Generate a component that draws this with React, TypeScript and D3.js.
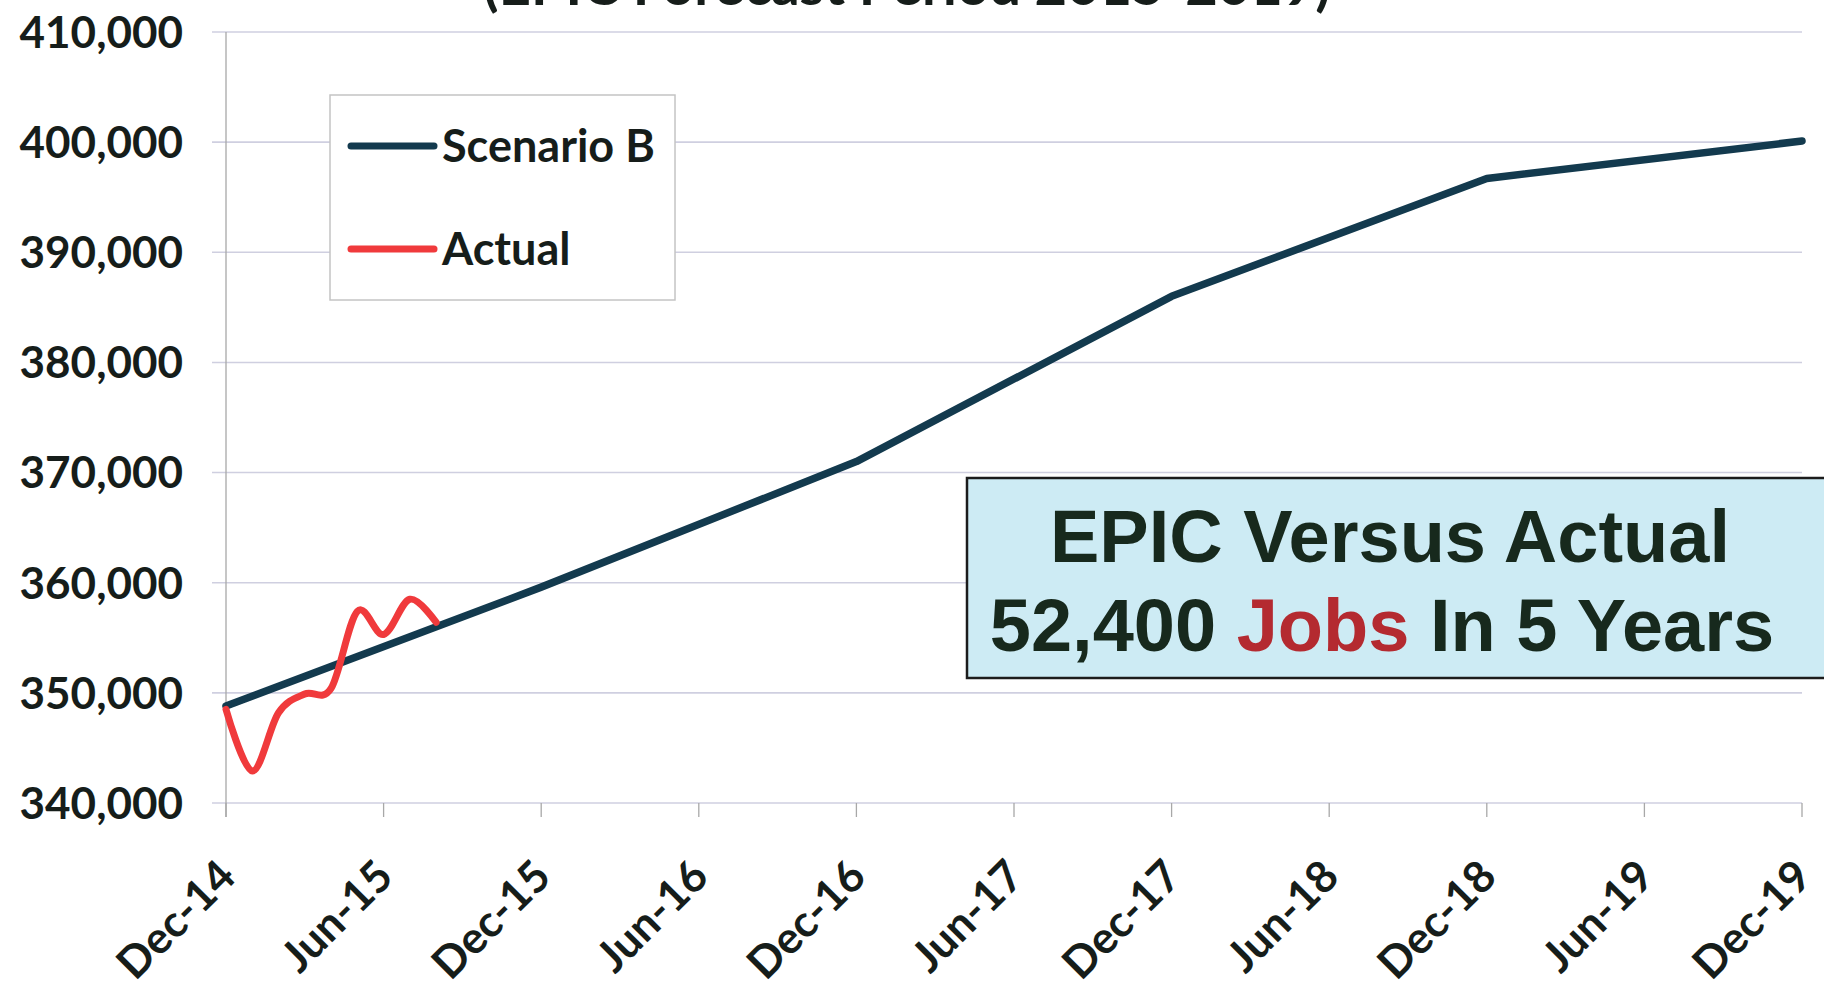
import React from "react";
import * as d3 from "d3";

// ---- data ----
const scenarioDates = ["2014-12", "2015-12", "2016-12", "2017-12", "2018-12", "2019-12"];
const scenarioValues = [348800, 359600, 371000, 386000, 396700, 400100];

const actualDates = ["2014-12", "2015-01", "2015-02", "2015-03", "2015-04", "2015-05", "2015-06", "2015-07", "2015-08"];
const actualValues = [348500, 342900, 348200, 349900, 350400, 357400, 355300, 358500, 356400];

const tickDates = ["2014-12", "2015-06", "2015-12", "2016-06", "2016-12", "2017-06", "2017-12", "2018-06", "2018-12", "2019-06", "2019-12"];
const tickLabels = ["Dec-14", "Jun-15", "Dec-15", "Jun-16", "Dec-16", "Jun-17", "Dec-17", "Jun-18", "Dec-18", "Jun-19", "Dec-19"];

const yTicks = [340000, 350000, 360000, 370000, 380000, 390000, 400000, 410000];

const titleText = "(EPIC Forecast Period 2015-2019)";
const legendLabels = ["Scenario B", "Actual"];
const annotationLine1 = "EPIC Versus Actual";
const annotationLine2 = ["52,400 ", "Jobs", " In 5 Years"];

// ---- helpers ----
const monthIndex = (s: string) => {
  const [yy, mm] = s.split("-").map(Number);
  return (yy - 2014) * 12 + (mm - 12);
};

const W = 1824;
const H = 990;

const x = d3.scaleLinear().domain([0, 60]).range([226, 1802]);
const y = d3.scaleLinear().domain([340000, 410000]).range([803, 32]);

const BLUE = "#133a4e";
const RED = "#f03a3c";
const TEXT = "#161d1a";
const GRID = "#cfcfe0";
const FONT = "Lato, 'Open Sans', sans-serif";

export default function App() {
  const scenLine = d3
    .line<number>()
    .x((_, i) => x(monthIndex(scenarioDates[i])))
    .y((d) => y(d))
    .curve(d3.curveLinear);
  const actLine = d3
    .line<number>()
    .x((_, i) => x(monthIndex(actualDates[i])))
    .y((d) => y(d))
    .curve(d3.curveCardinal.tension(0));

  const axisBottom = y(340000);

  return (
    <svg
      width={W}
      height={H}
      style={{ position: "absolute", left: 0, top: 0, background: "#fff" }}
    >
      <rect x={0} y={0} width={W} height={H} fill="#ffffff" />
      {/* title (cut off at top, as in the source) */}
      <text
        x={907}
        y={5}
        textAnchor="middle"
        fontFamily={FONT}
        fontWeight={700}
        fontSize={56}
        fill={TEXT}
      >
        {titleText}
      </text>

      {/* gridlines */}
      {yTicks.map((t) => (
        <line
          key={t}
          x1={212}
          x2={x(60)}
          y1={y(t)}
          y2={y(t)}
          stroke={GRID}
          strokeWidth={1.6}
        />
      ))}
      {/* y axis */}
      <line x1={x(0)} x2={x(0)} y1={y(410000)} y2={axisBottom + 14} stroke="#a8a8a8" strokeWidth={1.3} />
      {/* x ticks */}
      {tickDates.map((d) => (
        <line
          key={d}
          x1={x(monthIndex(d))}
          x2={x(monthIndex(d))}
          y1={axisBottom}
          y2={axisBottom + 14}
          stroke="#a8a8a8"
          strokeWidth={1.3}
        />
      ))}

      {/* y labels */}
      {yTicks.map((t) => (
        <text
          key={t}
          x={183}
          y={y(t)}
          dy="0.36em"
          textAnchor="end"
          fontFamily={FONT}
          fontWeight={700}
          fontSize={44}
          fill={TEXT}
        >
          {d3.format(",")(t)}
        </text>
      ))}

      {/* x labels */}
      {tickDates.map((d, i) => {
        const ax = x(monthIndex(d)) + 12;
        const ay = 879;
        return (
          <text
            key={d}
            x={ax}
            y={ay}
            transform={`rotate(-45, ${ax}, ${ay})`}
            textAnchor="end"
            fontFamily={FONT}
            fontWeight={700}
            fontSize={44}
            fill={TEXT}
          >
            {tickLabels[i]}
          </text>
        );
      })}

      {/* series */}
      <path
        d={scenLine(scenarioValues) || ""}
        fill="none"
        stroke={BLUE}
        strokeWidth={7.5}
        strokeLinejoin="round"
        strokeLinecap="round"
      />
      <path
        d={actLine(actualValues) || ""}
        fill="none"
        stroke={RED}
        strokeWidth={7}
        strokeLinejoin="round"
        strokeLinecap="round"
      />

      {/* legend */}
      <rect x={330} y={95} width={345} height={205} fill="#ffffff" stroke="#c4c4c4" strokeWidth={1.5} />
      {legendLabels.map((lab, i) => {
        const ly = 146 + i * 103;
        return (
          <g key={lab}>
            <line
              x1={351}
              x2={434}
              y1={ly}
              y2={ly}
              stroke={i === 0 ? BLUE : RED}
              strokeWidth={7}
              strokeLinecap="round"
            />
            <text
              x={442}
              y={ly}
              dy="0.36em"
              fontFamily={FONT}
              fontWeight={700}
              fontSize={45}
              fill={TEXT}
            >
              {lab}
            </text>
          </g>
        );
      })}

      {/* annotation box */}
      <rect x={967} y={478} width={870} height={200} fill="#cdebf4" stroke="#1c1c1c" strokeWidth={2.5} />
      <text
        x={1390}
        y={562}
        textAnchor="middle"
        fontFamily="'Liberation Sans', Arial, sans-serif"
        fontWeight={700}
        fontSize={74}
        fill="#17291d"
      >
        {annotationLine1}
      </text>
      <text
        x={1382}
        y={651}
        textAnchor="middle"
        fontFamily="'Liberation Sans', Arial, sans-serif"
        fontWeight={700}
        fontSize={74}
        fill="#17291d"
      >
        <tspan>{annotationLine2[0]}</tspan>
        <tspan fill="#b42a30">{annotationLine2[1]}</tspan>
        <tspan>{annotationLine2[2]}</tspan>
      </text>
    </svg>
  );
}
